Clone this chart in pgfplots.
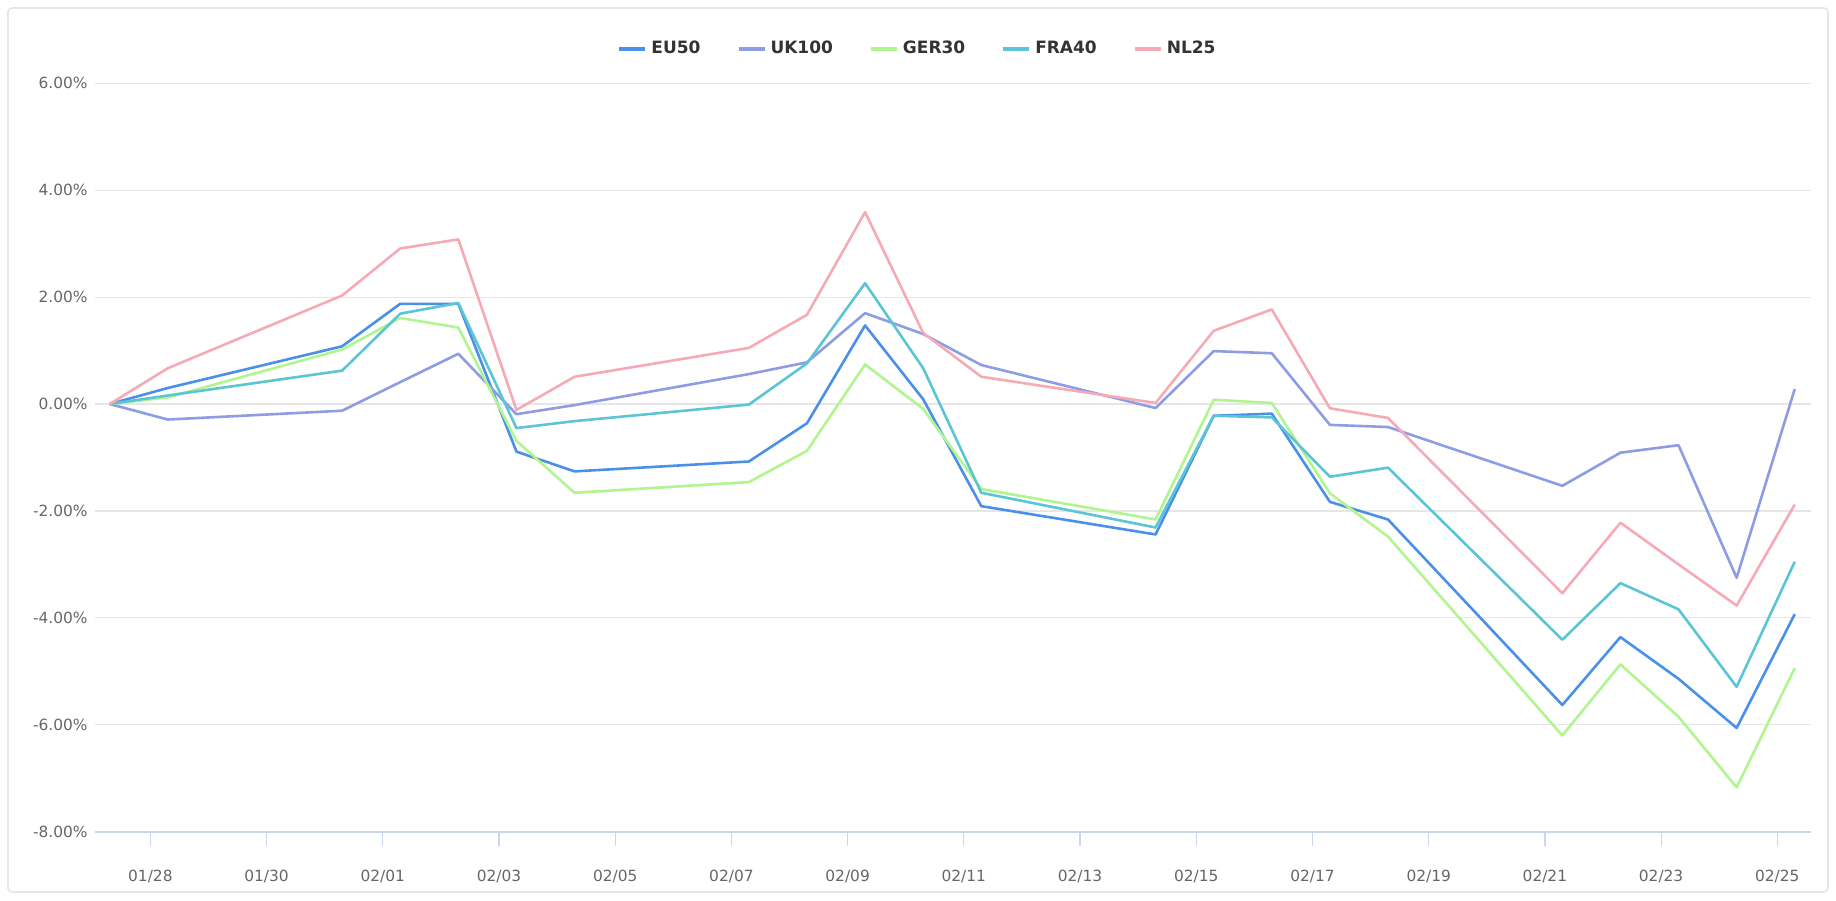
\documentclass[border=0pt]{standalone}
\usepackage{pgfplots}
\usepackage{pgfplotstable}
\pgfplotsset{compat=1.18}
\usepackage{fontspec}
\setmainfont{DejaVu Sans}
\definecolor{cEU}{HTML}{4A90E8}
\definecolor{cUK}{HTML}{8E9DE3}
\definecolor{cGER}{HTML}{B0F58F}
\definecolor{cFRA}{HTML}{5CC5D5}
\definecolor{cNL}{HTML}{F5AAB6}
\definecolor{gridc}{HTML}{E6E6E6}
\definecolor{axisc}{HTML}{CCD6EB}
\definecolor{labc}{HTML}{666666}
\definecolor{legc}{HTML}{333333}

\pgfplotstableread{
x EU50 UK100 GER30 FRA40 NL25
0.3 0 0 0 0 0
1.3 0.30 -0.29 0.125 0.16 0.67
4.3 1.08 -0.125 1.02 0.625 2.03
5.3 1.875 0.41 1.61 1.69 2.91
6.3 1.875 0.94 1.43 1.89 3.08
7.3 -0.89 -0.19 -0.69 -0.45 -0.11
8.3 -1.26 -0.02 -1.66 -0.32 0.51
11.3 -1.075 0.56 -1.46 -0.01 1.05
12.3 -0.36 0.78 -0.875 0.76 1.67
13.3 1.47 1.70 0.74 2.26 3.59
14.3 0.09 1.31 -0.09 0.67 1.33
15.3 -1.91 0.73 -1.59 -1.66 0.51
18.3 -2.44 -0.075 -2.16 -2.31 0.02
19.3 -0.22 0.99 0.08 -0.22 1.37
20.3 -0.18 0.95 0.02 -0.25 1.77
21.3 -1.83 -0.39 -1.67 -1.36 -0.08
22.3 -2.16 -0.43 -2.48 -1.19 -0.26
25.3 -5.63 -1.53 -6.20 -4.41 -3.54
26.3 -4.36 -0.91 -4.87 -3.35 -2.22
27.3 -5.14 -0.77 -5.85 -3.84 -3.00
28.3 -6.06 -3.25 -7.17 -5.29 -3.77
29.3 -3.93 0.28 -4.94 -2.95 -1.88
}\datatable

\begin{document}
\begin{tikzpicture}
\path[use as bounding box] (0,0) rectangle (918pt,450pt);
\draw[gridc, line width=0.8pt, rounded corners=2pt] (4pt,4pt) rectangle (914pt,446pt);
\begin{axis}[
  at={(47.3pt,34.15pt)}, anchor=south west,
  scale only axis, width=858.2pt, height=374.2pt,
  xmin=0.04, xmax=29.58, ymin=-8, ymax=6,
  ytick={-8,-6,...,6},
  xtick={1,3,...,29},
  xticklabels={01/28,01/30,02/01,02/03,02/05,02/07,02/09,02/11,02/13,02/15,02/17,02/19,02/21,02/23,02/25},
  yticklabel={\pgfmathprintnumber[fixed,fixed zerofill,precision=2]{\tick}\%},
  /pgf/number format/assume math mode=true,
  axis x line*=bottom, axis y line*=left,
  y axis line style={draw=none},
  x axis line style={draw=axisc, line width=1pt, -},
  ymajorgrids, major grid style={draw=gridc, line width=0.6pt},
  ytick style={draw=none},
  xtick style={draw=axisc, line width=0.6pt},
  tick align=outside, major tick length=7pt,
  tick label style={font=\fontsize{7.7}{9}\selectfont, text=labc},
  yticklabel style={xshift=7pt},
  xticklabel style={yshift=-8.9pt},
  clip=false,
  legend columns=-1,
  legend style={draw=none, fill=none, at={(axis description cs:0.48,1)}, anchor=center, yshift=17.3pt,
    font=\fontsize{8.5}{10}\selectfont\bfseries, text=legc,
    /tikz/every even column/.append style={column sep=16pt}},
  legend image code/.code={\draw[#1, line width=2pt] (0pt,0pt) -- (13pt,0pt);},
  every axis plot/.append style={line width=1.3pt, line join=round, mark=none},
]
\addplot[cEU] table[x=x, y=EU50] {\datatable};
\addlegendentry{EU50}
\addplot[cUK] table[x=x, y=UK100] {\datatable};
\addlegendentry{UK100}
\addplot[cGER] table[x=x, y=GER30] {\datatable};
\addlegendentry{GER30}
\addplot[cFRA] table[x=x, y=FRA40] {\datatable};
\addlegendentry{FRA40}
\addplot[cNL] table[x=x, y=NL25] {\datatable};
\addlegendentry{NL25}
\end{axis}
\end{tikzpicture}
\end{document}
